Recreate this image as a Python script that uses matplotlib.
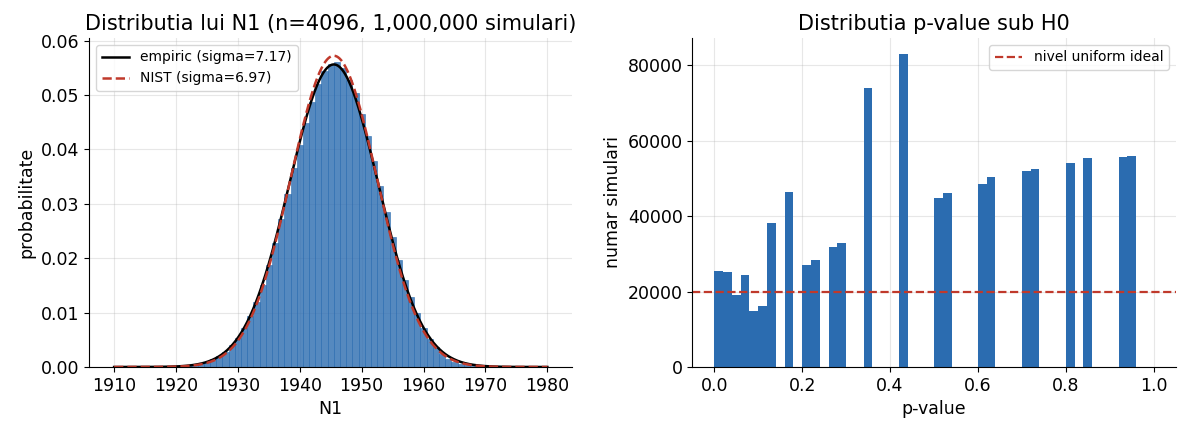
import numpy as np
import matplotlib
matplotlib.use("Agg")
import matplotlib.pyplot as plt
from matplotlib.ticker import MultipleLocator

# --- date ---
# histograma N1 (densitate pe fiecare valoare intreaga 1910..1980)
n1_values = np.arange(1910, 1981)
n1_density = [
    0.0, 0.0, 0.0, 0.0, 0.00001, 0.00001, 0.00002, 0.00003, 0.00005, 0.00008,
    0.00013, 0.0002, 0.0003, 0.00045, 0.0007, 0.001, 0.0014, 0.0020, 0.0028, 0.0040,
    0.0053, 0.0071, 0.0094, 0.0120, 0.0150, 0.0188, 0.0228, 0.0272, 0.0319, 0.0366,
    0.0408, 0.0449, 0.0488, 0.0521, 0.0545, 0.0558, 0.0560, 0.0549, 0.0528, 0.0503,
    0.0465, 0.0425, 0.0378, 0.0332, 0.0285, 0.0239, 0.0197, 0.0160, 0.0128, 0.0099,
    0.0072, 0.0052, 0.0036, 0.0024, 0.0015, 0.0010, 0.0006, 0.00035, 0.0002, 0.00012,
    0.00007, 0.00004, 0.00002, 0.00001, 0.0, 0.0, 0.0, 0.0, 0.0, 0.0,
    0.0,
]

# parametrii curbelor normale (din legenda)
mean_n1 = 1945.5
sigma_empiric = 7.17
sigma_nist = 6.97

# histograma p-value (50 de intervale pe [0, 1])
pvalue_edges = np.linspace(0.0, 1.0, 51)
pvalue_counts = [
    25400, 25130, 19030, 24340, 14780, 16110, 38140, 0, 46370, 0,
    26990, 28320, 0, 31770, 32830, 0, 0, 73980, 0, 0,
    0, 83010, 0, 0, 0, 44780, 46110, 0, 0, 0,
    48500, 50350, 0, 0, 0, 51950, 52480, 0, 0, 0,
    54070, 0, 55400, 0, 0, 0, 55660, 55930, 0, 0,
]
uniform_level = 20000

BLUE = "#2b6cb0"
RED = "#c0392b"

fig, (ax1, ax2) = plt.subplots(1, 2, figsize=(11.78, 4.26), dpi=100)
fig.subplots_adjust(left=0.0756, right=0.998, bottom=0.1385, top=0.9108, wspace=0.248)

# --- stanga: distributia N1 ---
n1_edges = np.append(n1_values - 0.5, n1_values[-1] + 0.5)
ax1.hist(n1_values, bins=n1_edges, weights=n1_density, color=BLUE, alpha=0.8,
         edgecolor=BLUE, linewidth=0.5)

x = np.linspace(1910, 1980, 600)
pdf_emp = np.exp(-0.5 * ((x - mean_n1) / sigma_empiric) ** 2) / (sigma_empiric * np.sqrt(2 * np.pi))
pdf_nist = np.exp(-0.5 * ((x - mean_n1) / sigma_nist) ** 2) / (sigma_nist * np.sqrt(2 * np.pi))
ax1.plot(x, pdf_emp, color="black", linewidth=1.8, label=f"empiric (sigma={sigma_empiric})")
ax1.plot(x, pdf_nist, color=RED, linewidth=1.8, linestyle="--", label=f"NIST (sigma={sigma_nist})")

ax1.set_ylim(0, 0.0605)
ax1.set_title("Distributia lui N1 (n=4096, 1,000,000 simulari)", fontsize=15)
ax1.set_xlabel("N1", fontsize=12.5)
ax1.set_ylabel("probabilitate", fontsize=12.5)
ax1.legend(loc="upper left", fontsize=10)

# --- dreapta: distributia p-value ---
ax2.hist(pvalue_edges[:-1], bins=pvalue_edges, weights=pvalue_counts, color=BLUE)
ax2.axhline(uniform_level, color=RED, linestyle="--", linewidth=1.6, label="nivel uniform ideal")
ax2.yaxis.set_major_locator(MultipleLocator(20000))
ax2.set_title("Distributia p-value sub H0", fontsize=15)
ax2.set_xlabel("p-value", fontsize=12.5)
ax2.set_ylabel("numar simulari", fontsize=12.5)
ax2.legend(loc="upper right", fontsize=10)

for ax in (ax1, ax2):
    ax.grid(True, alpha=0.3)
    ax.set_axisbelow(True)
    ax.spines["top"].set_visible(False)
    ax.spines["right"].set_visible(False)
    ax.tick_params(labelsize=12.5)

plt.savefig("out.png", dpi=100)
plt.close(fig)
